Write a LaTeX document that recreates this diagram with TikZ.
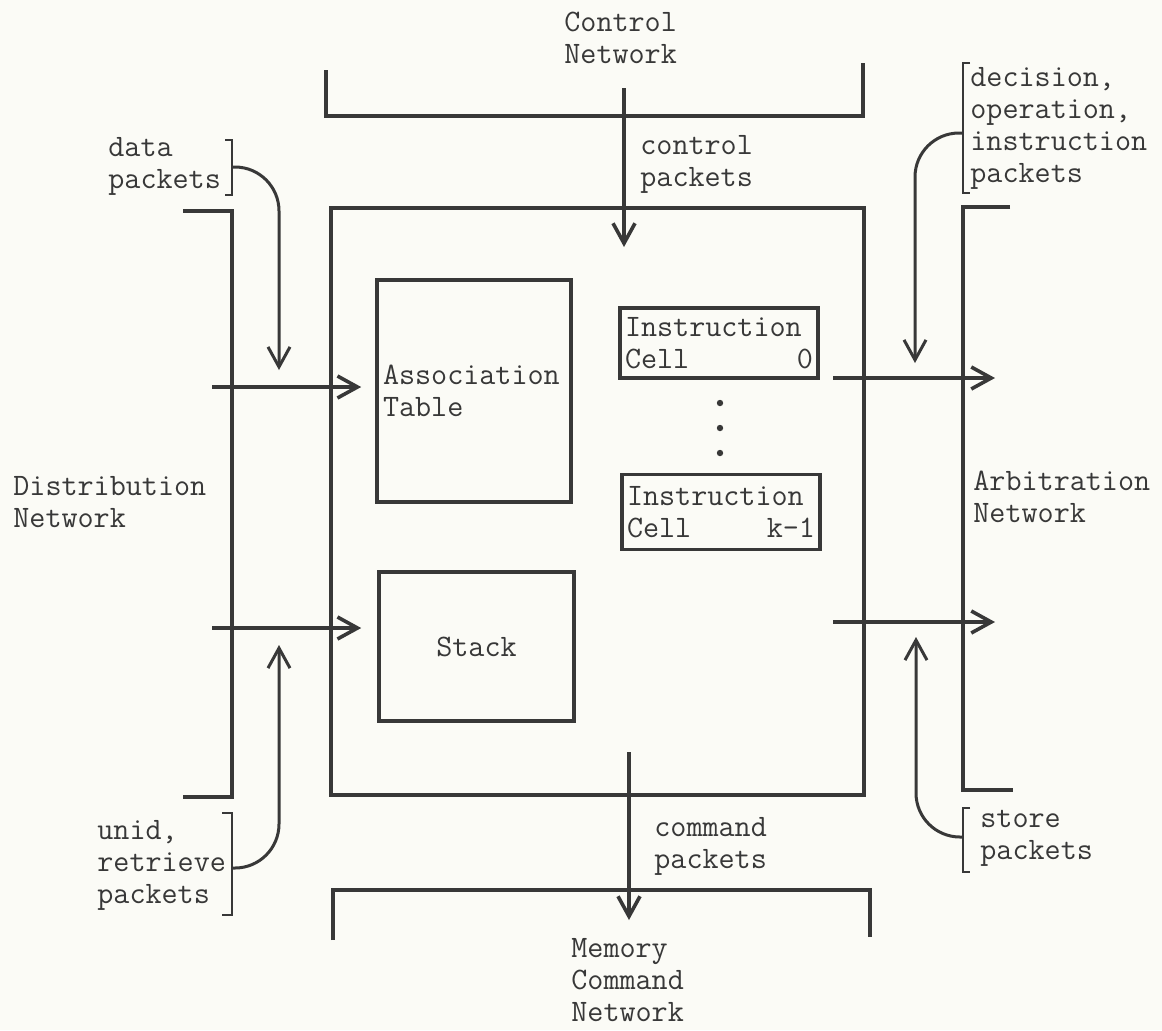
\documentclass[tikz,border=0pt]{standalone}
\usetikzlibrary{arrows.meta}
\definecolor{ink}{HTML}{383838}
\definecolor{paper}{HTML}{FBFBF6}
\newcommand{\tw}{\ttfamily\fontsize{15.6}{16}\selectfont}

\begin{document}
\begin{tikzpicture}[x=0.5pt, y=-0.5pt,
  wall/.style={draw=ink, line width=1.8pt},
  brk/.style={draw=ink, line width=1.2pt},
  flow/.style={draw=ink, line width=1.8pt, -{Straight Barb[length=10pt,width=11pt]}},
  curveflow/.style={flow, line width=1.5pt, rounded corners=22pt},
  blk/.style={draw=ink, line width=1.8pt, inner sep=0pt},
  lbl/.style={font=\tw, text=ink, align=left, inner sep=0pt, anchor=west}]

	\fill[paper] (0,0) rectangle (1162,1030);

	% networks round the cell block
	\draw[wall] (326,70) -- (326,116) -- (863,116) -- (863,63);
	\draw[wall] (333,940) -- (333,890) -- (870,890) -- (870,937);
	\draw[wall] (183,211) -- (232,211) -- (232,797) -- (183,797);
	\draw[wall] (1010,207) -- (963,207) -- (963,790) -- (1013,790);

	\node[lbl] (ctlnet) at (564,38) {Control\\Network};
	\node[lbl] (memnet) at (571,980) {Memory\\Command\\Network};
	\node[lbl] (distnet) at (13,502) {Distribution\\Network};
	\node[lbl] (arbnet) at (973,497) {Arbitration\\Network};

	% the block and its parts
	\node[blk, minimum width=266.5pt, minimum height=293.5pt] (main) at (597.5,501.5) {};
	\node[blk, minimum width=97pt, minimum height=111pt, inner xsep=3pt, text width=91pt,
	  align=left, font=\tw, text=ink] (assoc) at (474,391) {Association\\Table};
	\node[blk, minimum width=97.5pt, minimum height=74.5pt, font=\tw, text=ink] (stack) at (476.5,646.5) {Stack};
	\node[blk, minimum width=99pt, minimum height=35pt, inner xsep=2.5pt, text width=94pt,
	  align=left, font=\tw, text=ink] (cell0) at (719,343) {Instruction\\Cell\hfill 0};
	\node[blk, minimum width=99pt, minimum height=37.5pt, inner xsep=2.5pt, text width=94pt,
	  align=left, font=\tw, text=ink] (cellk) at (721,512) {Instruction\\Cell\hfill k-1};
	\foreach \y in {403,428,453}
		\fill[ink] (720,\y) circle [radius=1.6pt];

	% straight flows
	\coordinate (ctlin) at (624,88);
	\coordinate (ctlout) at (624,247);
	\coordinate (cmdin) at (629,752);
	\coordinate (cmdout) at (629,920);
	\coordinate (din1) at (212,387);
	\coordinate (din2) at (212,628);
	\coordinate (aout1) at (833,378);
	\coordinate (aend1) at (995,378);
	\coordinate (aout2) at (833,622);
	\coordinate (aend2) at (995,622);
	\draw[flow] (ctlin) -- (ctlout);
	\draw[flow] (cmdin) -- (cmdout);
	\draw[flow, shorten >=7pt] (din1) -- (din1 -| assoc.west);
	\draw[flow, shorten >=8pt] (din2) -- (din2 -| stack.west);
	\draw[flow] (aout1) -- (aend1);
	\draw[flow] (aout2) -- (aend2);
	\node[lbl] (ctlpk) at (640,164) {control\\packets};
	\node[lbl] (cmdpk) at (654,846) {command\\packets};

	% packet kinds with their brackets
	\node[lbl] (datapk) at (108,166) {data\\packets};
	\draw[brk] (225,140) -- (232,140) -- (232,195) -- (225,195);
	\coordinate (datain) at (279,370);
	\draw[curveflow] (232,167) -| (datain);

	\node[lbl] (unidpk) at (97,865) {unid,\\retrieve\\packets};
	\draw[brk] (222,813) -- (232,813) -- (232,915) -- (222,915);
	\coordinate (unidin) at (279,645);
	\draw[curveflow] (232,868) -| (unidin);

	\node[lbl] (decpk) at (970,128) {decision,\\operation,\\instruction\\packets};
	\draw[brk] (970,63) -- (963,63) -- (963,193) -- (970,193);
	\coordinate (decin) at (915,363);
	\draw[curveflow] (963,133) -| (decin);

	\node[lbl] (storepk) at (980,838) {store\\packets};
	\draw[brk] (970,808) -- (963,808) -- (963,872) -- (970,872);
	\coordinate (storein) at (916,637);
	\draw[curveflow] (963,837) -| (storein);
\end{tikzpicture}
\end{document}
